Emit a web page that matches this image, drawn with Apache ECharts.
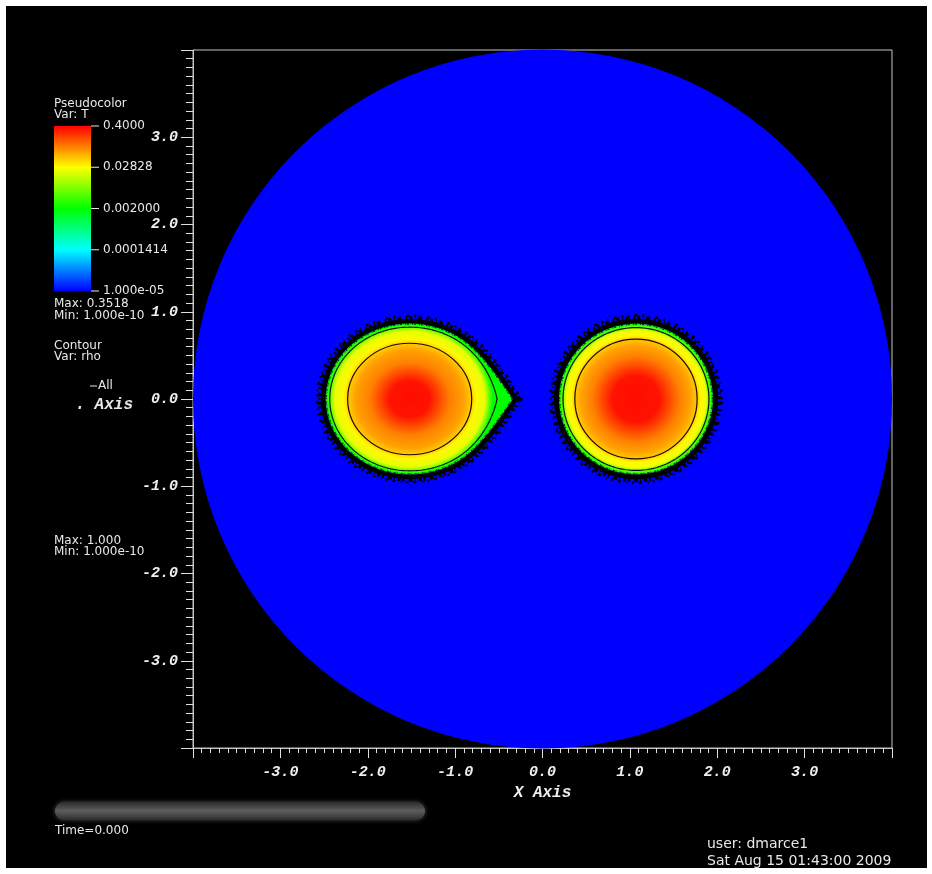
<!DOCTYPE html>
<html>
<head>
<meta charset="utf-8">
<title>Pseudocolor T / Contour rho</title>
<script src="https://cdn.jsdelivr.net/npm/echarts/dist/echarts.min.js"></script>
<style>
  html, body { margin: 0; padding: 0; background: #ffffff; }
  #chart { width: 932px; height: 874px; }
</style>
</head>
<body>
<div id="chart"></div>
<script>
// ---- Temperature colour table (log scale) ----
const tMin = 1.0e-5;
const tMax = 0.4;
const paletteColors = ['#0000ff', '#00ffff', '#00ff00', '#ffff00', '#ff0000'];
const colorbarTickValues = [0.4, 0.02828, 0.002, 0.0001414, 1.0e-5];
const colorbarTickLabels = ['0.4000', '0.02828', '0.002000', '0.0001414', '1.000e-05'];

// ---- Axes ----
const axisMin = -4;
const axisMax = 4;
const axisTickLabels = { '-3': '-3.0', '-2': '-2.0', '-1': '-1.0', '0': '0.0', '1': '1.0', '2': '2.0', '3': '3.0' };

// ---- Computational domain (disc) ----
const domainCenterX = [0.0];
const domainCenterY = [0.0];
const domainRadius = [4.0];
const ambientT = [1.0e-5];

// ---- Stars: 0 = primary (left), 1 = secondary (right) ----
const starCenterX = [-1.52, 1.07];
const starCenterY = [0.0, 0.0];
const starFlatten = [0.90, 0.98];          // minor/major axis ratio
// Radial temperature profiles (radius in code units, T)
const primaryRadius   = [0.00, 0.23, 0.46, 0.62, 0.70, 0.76, 0.86, 0.91, 0.95];
const primaryT        = [0.35, 0.33, 0.106, 0.075, 0.050, 0.030, 0.022, 0.006, 0.002];
const secondaryRadius = [0.00, 0.27, 0.50, 0.62, 0.70, 0.74, 0.80, 0.84, 0.88];
const secondaryT      = [0.35, 0.33, 0.106, 0.075, 0.050, 0.030, 0.025, 0.006, 0.002];
// Envelope edge: back radius, front radius, tidal tip length, tip width
const edgeBack  = [0.96, 0.88];
const edgeFront = [0.98, 0.88];
const edgeTip   = [0.20, 0.0];
const edgeTipW  = [0.70, 0.60];
// rho contour lines
const innerContourR = [0.71, 0.70];
const outerContourBack  = [0.915, 0.835];
const outerContourFront = [0.94, 0.835];
const outerContourTip   = [0.06, 0.0];

const profileR = [primaryRadius, secondaryRadius];
const profileT = [primaryT, secondaryT];

// ---- Colour lookup for T ----
function hexToRgb(h) {
  return [parseInt(h.slice(1, 3), 16), parseInt(h.slice(3, 5), 16), parseInt(h.slice(5, 7), 16)];
}
const paletteRgb = paletteColors.map(hexToRgb);
function tPosition(t) {
  const p = (Math.log(t) - Math.log(tMin)) / (Math.log(tMax) - Math.log(tMin));
  return Math.max(0, Math.min(1, p));
}
function tColor(t) {
  const seg = tPosition(t) * (paletteRgb.length - 1);
  const i = Math.min(Math.floor(seg), paletteRgb.length - 2);
  const f = seg - i;
  const a = paletteRgb[i], b = paletteRgb[i + 1];
  const c = a.map((v, j) => Math.round(v + (b[j] - v) * f));
  return 'rgb(' + c.join(',') + ')';
}

// ---- Outline of a (tidally stretched) star in data space ----
function outline(api, cx, cy, back, front, tip, tipW, pad) {
  const pts = [];
  const n = 240;
  for (let i = 0; i < n; i++) {
    const a = (i / n) * Math.PI * 2;
    const co = Math.cos(a), si = Math.sin(a);
    let dx;
    if (co < 0) dx = (back + pad) * co;
    else dx = (front + pad) * co + tip * Math.pow(Math.max(0, 1 - Math.abs(si) / tipW), 2);
    const dy = (back + pad) * si;
    pts.push(api.coord([cx + dx, cy + dy]));
  }
  return pts;
}

function renderDomain(params, api) {
  const c = api.coord([api.value(0), api.value(1)]);
  const r = api.size([api.value(2), 0])[0];
  return {
    type: 'circle',
    shape: { cx: c[0], cy: c[1], r: r },
    style: { fill: tColor(api.value(3)) },
    silent: true
  };
}

function renderStar(params, api) {
  const k = api.value(2);
  const cx = api.value(0), cy = api.value(1);
  const c = api.coord([cx, cy]);
  const unit = api.size([1, 0])[0];
  const radii = profileR[k], temps = profileT[k];
  const rMax = radii[radii.length - 1];
  const stops = radii.map((r, i) => ({ offset: r / rMax, color: tColor(temps[i]) }));
  const gradient = new echarts.graphic.RadialGradient(c[0], c[1], rMax * unit, stops, true);

  const edge = (pad) => outline(api, cx, cy, edgeBack[k], edgeFront[k], edgeTip[k], edgeTipW[k], pad);
  const ring = (pad, width, dash, color) => ({
    type: 'polygon', shape: { points: edge(pad) },
    style: { fill: 'none', stroke: color, lineWidth: width, lineDash: dash }
  });
  const children = [
    // ragged dark rim around the hot envelope
    ring(0.03, 5, null, '#000000'),
    ring(0.07, 4, [3, 2, 2, 4, 4, 2, 1, 3], '#000000'),
    ring(0.10, 2.5, [2, 5, 3, 6, 1, 4], '#000004'),
    // temperature field
    { type: 'polygon', shape: { points: edge(0) }, style: { fill: gradient } },
    ring(-0.006, 1.2, [2, 1, 1, 3], '#002a10'),
    // density contours
    { type: 'polygon', shape: { points: outline(api, cx, cy, outerContourBack[k], outerContourFront[k], outerContourTip[k], edgeTipW[k], 0) },
      style: { fill: 'none', stroke: '#101010', lineWidth: 1.2 } },
    { type: 'circle', shape: { cx: c[0], cy: c[1], r: innerContourR[k] * unit },
      style: { fill: 'none', stroke: '#1a0a00', lineWidth: 1.2 } }
  ];
  return {
    type: 'group',
    originX: c[0], originY: c[1],
    scaleY: starFlatten[k],
    children: children,
    silent: true
  };
}

// ---- Data tables for the series ----
const domainData = domainRadius.map((r, i) => [domainCenterX[i], domainCenterY[i], r, ambientT[i]]);
const starData = starCenterX.map((x, i) => [x, starCenterY[i], i]);

// ---- Legend / annotation graphics ----
const textColor = '#e8e8e8';
const legendFont = '12px "DejaVu Sans"';
function label(text, x, y, font, align) {
  return {
    type: 'text', z: 10, silent: true,
    style: { text: text, x: x, y: y, fill: textColor, font: font,
             align: align || 'left', verticalAlign: 'middle',
             textAlign: align || 'left', textVerticalAlign: 'middle' }
  };
}

const barX = 54, barY = 126, barW = 37, barH = 165;
const barStops = colorbarTickValues.map(v => ({ offset: 1 - tPosition(v), color: tColor(v) }))
  .sort((a, b) => a.offset - b.offset);

const graphics = [
  // panel background
  { type: 'rect', z: -20, silent: true, shape: { x: 6, y: 6, width: 921, height: 862 }, style: { fill: '#000000' } },
  label('Pseudocolor', 54, 104, legendFont),
  label('Var: T', 54, 115, legendFont),
  { type: 'rect', z: 10, silent: true, shape: { x: barX, y: barY, width: barW, height: barH },
    style: { fill: new echarts.graphic.LinearGradient(0, 0, 0, 1, barStops) } },
  label('Max: 0.3518', 54, 304, legendFont),
  label('Min: 1.000e-10', 54, 316, legendFont),
  label('Contour', 54, 346, legendFont),
  label('Var: rho', 54, 357, legendFont),
  { type: 'line', z: 10, silent: true, shape: { x1: 90, y1: 386, x2: 97, y2: 386 }, style: { stroke: textColor, lineWidth: 1 } },
  label('All', 98, 386, legendFont),
  label('Max: 1.000', 54, 541, legendFont),
  label('Min: 1.000e-10', 54, 552, legendFont),
  // y-axis title, its first letter hidden under the legend block
  label('Y Axis', 133, 405, 'italic bold 16px "Liberation Mono"', 'right'),
  { type: 'rect', z: 11, silent: true, shape: { x: 68, y: 390, width: 18, height: 16 }, style: { fill: '#000000' } },
  // time slider
  { type: 'rect', z: 10, silent: true, shape: { x: 55, y: 802, width: 370, height: 18, r: 9 },
    style: { fill: new echarts.graphic.LinearGradient(0, 0, 0, 1, [
      { offset: 0, color: '#2c2c2c' }, { offset: 0.5, color: '#5e5e5e' }, { offset: 1, color: '#2c2c2c' }]),
      shadowBlur: 4, shadowColor: 'rgba(80,80,80,0.9)' } },
  label('Time=0.000', 55, 831, legendFont),
  label('user: dmarce1', 707, 844, '14px "DejaVu Sans"'),
  label('Sat Aug 15 01:43:00 2009', 707, 861, '14px "DejaVu Sans"')
];
colorbarTickValues.forEach((v, i) => {
  const y = barY + (1 - tPosition(v)) * barH;
  graphics.push({ type: 'line', z: 10, silent: true, shape: { x1: barX + barW, y1: y, x2: barX + barW + 8, y2: y },
                  style: { stroke: textColor, lineWidth: 1 } });
  graphics.push(label(colorbarTickLabels[i], barX + barW + 12, y, legendFont));
});

// ---- Chart ----
const axisFont = { color: '#eeeeee', fontFamily: 'Liberation Mono', fontStyle: 'italic', fontWeight: 'bold', fontSize: 15 };
const frameColor = '#c4c4c4';
const tickColor = '#e0e0e0';
function tickText(v) {
  const key = String(Math.round(v));
  return Math.abs(v - Math.round(v)) < 1e-9 && axisTickLabels[key] ? axisTickLabels[key] : '';
}

const chart = echarts.init(document.getElementById('chart'), null, { renderer: 'canvas' });
chart.setOption({
  backgroundColor: '#ffffff',
  animation: false,
  grid: { left: 193, top: 50, width: 699, height: 698, show: true, borderColor: frameColor, borderWidth: 1,
          backgroundColor: 'transparent', containLabel: false },
  xAxis: {
    type: 'value', min: axisMin, max: axisMax, interval: 1,
    axisLine: { show: true, onZero: false, lineStyle: { color: frameColor, width: 1 } },
    axisTick: { show: true, inside: false, length: 10, lineStyle: { color: tickColor } },
    minorTick: { show: true, splitNumber: 10, length: 5, lineStyle: { color: tickColor } },
    splitLine: { show: false },
    axisLabel: Object.assign({ formatter: tickText, margin: 17 }, axisFont),
    name: 'X Axis', nameLocation: 'middle', nameGap: 30,
    nameTextStyle: Object.assign({}, axisFont, { fontSize: 16 })
  },
  yAxis: {
    type: 'value', min: axisMin, max: axisMax, interval: 1,
    axisLine: { show: true, onZero: false, lineStyle: { color: frameColor, width: 1 } },
    axisTick: { show: true, inside: false, length: 12, lineStyle: { color: tickColor } },
    minorTick: { show: true, splitNumber: 10, length: 7, lineStyle: { color: tickColor } },
    splitLine: { show: false },
    axisLabel: Object.assign({ formatter: tickText, margin: 15 }, axisFont)
  },
  graphic: { elements: graphics },
  series: [
    { type: 'custom', name: 'domain', renderItem: renderDomain, data: domainData, z: 1,
      encode: { x: 0, y: 1 }, silent: true, clip: false },
    { type: 'custom', name: 'stars', renderItem: renderStar, data: starData, z: 2,
      encode: { x: 0, y: 1 }, silent: true, clip: false }
  ]
});
</script>
</body>
</html>
